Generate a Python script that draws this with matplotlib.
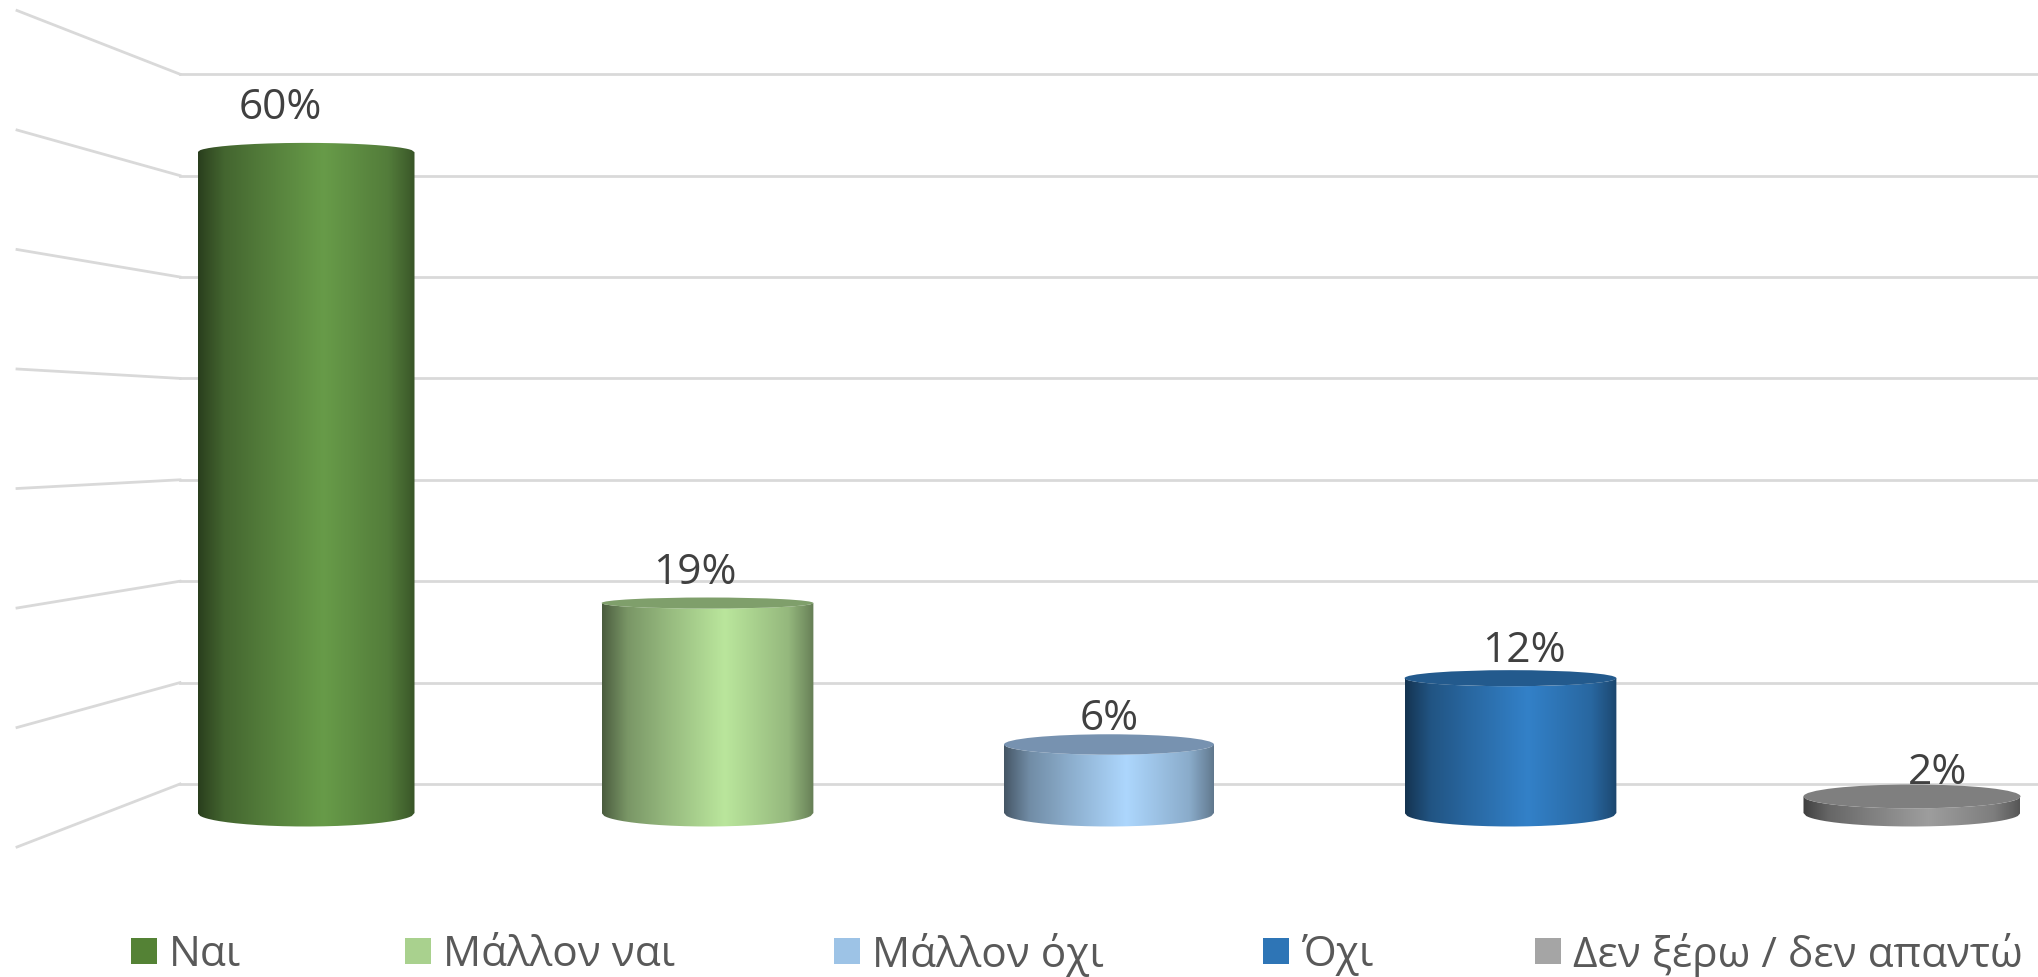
import matplotlib
matplotlib.use("Agg")
import matplotlib.pyplot as plt
from matplotlib.patches import Ellipse, PathPatch, Rectangle
from matplotlib.path import Path
from matplotlib.colors import to_rgb
import numpy as np

# data
categories = ["Ναι", "Μάλλον ναι", "Μάλλον όχι", "Όχι", "Δεν ξέρω / δεν απαντώ"]
values = [59.8, 19.0, 6.2, 12.2, 1.5]  # labels are rounded
grid_values = [0, 10, 20, 30, 40, 50, 60, 70]

legend_colors = ["#548235", "#A9D18E", "#9DC3E6", "#2E75B6", "#A5A5A5"]
side_colors = ["#5e8d42", "#A9D18E", "#9DC3E6", "#2E75B6", "#8f8f8f"]
top_colors = ["#548235", "#7f9f6b", "#7792b0", "#235a8d", "#7f7f7f"]

# figure is laid out in pixels of the 2038x977 picture
W, H = 2038, 977
X0, DX = 306, 401.5     # centre of first bar, bar spacing
FLOOR, SCALE = 813, 11.05  # bar plane: floor pixel, pixels per percent

plt.rcParams['font.family'] = ['Open Sans', 'DejaVu Sans']

fig = plt.figure(figsize=(W / 100, H / 100), dpi=100)
ax = fig.add_axes([0, 0, 1, 1])
xlim = (-X0 / DX, (W - X0) / DX)
ylim = ((FLOOR - H) / SCALE, FLOOR / SCALE)


def back_y(v):
    # value on the back wall, in bar plane units
    return (FLOOR - (784 - v * 10.14)) / SCALE


def front_y(v):
    # value at the front end of the side wall
    return (FLOOR - (847 - v * 11.95)) / SCALE


def ellipse_b(v):
    # the view is from about the height of pixel 435, so ellipses flatten there
    return 0.033 * (FLOOR - v * SCALE - 435) / SCALE


# walls
wall_x = (180 - X0) / DX
front_x = (17 - X0) / DX
for v in grid_values:
    ax.plot([wall_x, xlim[1]], [back_y(v), back_y(v)], color="#d9d9d9", lw=2.0, zorder=1)
    ax.plot([front_x, wall_x], [front_y(v), back_y(v)], color="#d9d9d9", lw=2.0, zorder=1)

# shading across a cylinder
stops = [0, 0.04, 0.12, 0.3, 0.5, 0.58, 0.72, 0.88, 0.97, 1]
shade = [0.44, 0.54, 0.72, 0.88, 1.04, 1.1, 1.0, 0.88, 0.68, 0.6]
t = np.linspace(0, 1, 256)
prof = np.interp(t, stops, shade)

for i, v in enumerate(values):
    bar_w = (210 + 1.75 * (i - 2) ** 2) / DX  # slightly wider towards the sides
    left = i - bar_w / 2
    u = np.linspace(-1, 1, 80)
    arc = np.sqrt(1 - u ** 2)
    xs = i + u * bar_w / 2
    b = ellipse_b(v)
    b0 = 13.5 / SCALE
    # body outline, top edge then bottom edge
    px = np.r_[xs, xs[::-1], xs[0]]
    py = np.r_[v - b * arc, (-b0 * arc)[::-1], v - b * arc[0]]
    patch = PathPatch(Path(np.c_[px, py]), transform=ax.transData, fc="none", ec="none")
    ax.add_patch(patch)
    grad = np.clip(np.outer(prof, to_rgb(side_colors[i])), 0, 1)[None, :, :]
    im = ax.imshow(grad, extent=[left, left + bar_w, -b0 - 1, v + abs(b) + 1], aspect="auto",
                   interpolation="bilinear", zorder=3)
    im.set_clip_path(patch)
    if b > 0:
        ax.add_patch(Ellipse((i, v), bar_w, 2 * b, fc=top_colors[i], ec="none", zorder=4))

    # labels drift outwards with the perspective
    ax.text(i + (i - 2) * 13 / DX, v + (23 + 0.35 * v) / SCALE, f"{v:.0f}%", ha="center", va="center",
            fontsize=30.5, color="#404040", zorder=5)

ax.set_xlim(xlim)
ax.set_ylim(ylim)
ax.axis("off")

# legend, spaced by hand as in the original
swatch_px = [131, 405, 834, 1263, 1535]
for name, col, sx in zip(categories, legend_colors, swatch_px):
    fig.add_artist(Rectangle((sx / W, 1 - 964 / H), 26 / W, 26 / H, transform=fig.transFigure, fc=col, ec="none"))
    fig.text((sx + 38) / W, 1 - 950 / H, name, ha="left", va="center_baseline", fontsize=30.5, color="#595959")

fig.savefig("out.png", dpi=100)
